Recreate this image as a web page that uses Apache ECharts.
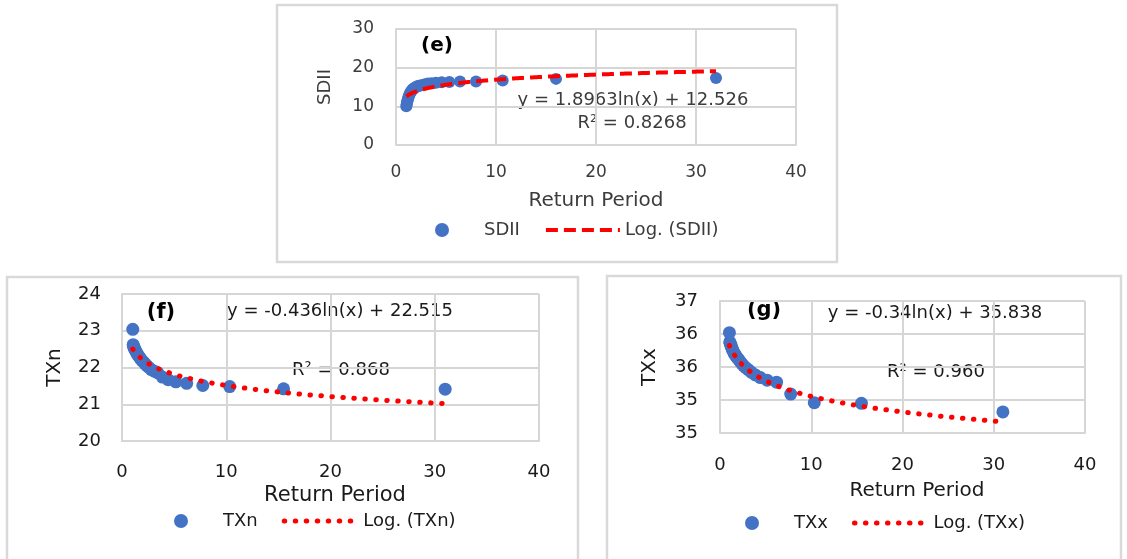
<!DOCTYPE html>
<html>
<head>
<meta charset="utf-8">
<script src="https://cdn.jsdelivr.net/npm/echarts@6/dist/echarts.min.js"></script>
<style>
html,body{margin:0;padding:0;background:#ffffff;}
#c{width:1127px;height:559px;}
</style>
</head>
<body>
<div id="c"></div>
<script>
// ---------- DATA ----------
// Panel (e): SDII vs return period
const sdiiReturnPeriod = [32, 16, 10.667, 8, 6.4, 5.333, 4.571, 4, 3.556, 3.2, 2.909, 2.667, 2.462, 2.286, 2.133, 2, 1.882, 1.778, 1.684, 1.6, 1.524, 1.455, 1.391, 1.333, 1.28, 1.231, 1.185, 1.143, 1.103, 1.067, 1.032];
const sdiiValues = [17.3, 17.1, 16.7, 16.4, 16.4, 16.3, 16.2, 16.1, 16.0, 15.9, 15.7, 15.5, 15.4, 15.3, 15.2, 15.0, 14.8, 14.6, 14.4, 14.2, 13.9, 13.6, 13.3, 13.0, 12.6, 12.2, 11.8, 11.4, 11.0, 10.5, 10.0];
const sdiiTrendCoef = [1.8963, 12.526];          // y = a ln(x) + b (printed on chart)

// Panel (f): TXn vs return period
const txnReturnPeriod = [31, 15.5, 10.333, 7.75, 6.2, 5.167, 4.429, 3.875, 3.444, 3.1, 2.818, 2.583, 2.385, 2.214, 2.067, 1.938, 1.824, 1.722, 1.632, 1.55, 1.476, 1.409, 1.348, 1.292, 1.24, 1.192, 1.148, 1.107, 1.069, 1.033];
const txnValues = [21.41, 21.42, 21.48, 21.51, 21.57, 21.61, 21.67, 21.74, 21.85, 21.90, 21.94, 22.00, 22.05, 22.10, 22.15, 22.18, 22.22, 22.26, 22.30, 22.33, 22.36, 22.40, 22.43, 22.46, 22.49, 22.52, 22.55, 22.58, 22.62, 23.04];
const txnTrendCoef = [-0.436, 22.515];

// Panel (g): TXx vs return period
const txxReturnPeriod = [31, 15.5, 10.333, 7.75, 6.2, 5.167, 4.429, 3.875, 3.444, 3.1, 2.818, 2.583, 2.385, 2.214, 2.067, 1.938, 1.824, 1.722, 1.632, 1.55, 1.476, 1.409, 1.348, 1.292, 1.24, 1.192, 1.148, 1.107, 1.069, 1.033];
const txxValues = [34.82, 34.95, 34.96, 35.09, 35.27, 35.30, 35.34, 35.38, 35.42, 35.46, 35.49, 35.52, 35.55, 35.58, 35.61, 35.63, 35.65, 35.67, 35.69, 35.71, 35.73, 35.75, 35.77, 35.79, 35.81, 35.83, 35.85, 35.86, 35.88, 36.02];
const txxTrendCoef = [-0.34, 35.838];

const seriesNames = ['SDII', 'Log. (SDII)', 'TXn', 'Log. (TXn)', 'TXx', 'Log. (TXx)'];
const panelLabels = ['(e)', '(f)', '(g)'];
const equations = ['y = 1.8963ln(x) + 12.526', 'y = -0.436ln(x) + 22.515', 'y = -0.34ln(x) + 35.838'];
const rSquared = ['R\u00B2 = 0.8268', 'R\u00B2 = 0.868', 'R\u00B2 = 0.960'];
const xTitle = 'Return Period';
const yTitles = ['SDII', 'TXn', 'TXx'];

// ---------- HELPERS ----------
function pairs(xs, ys) { return xs.map((x, i) => [x, ys[i]]); }
// logarithmic trend line over the data range, from the printed coefficients
function trend(xs, coef) {
  const lo = Math.min.apply(null, xs), hi = Math.max.apply(null, xs);
  const pts = [];
  const n = 300;
  for (let i = 0; i <= n; i++) {
    const x = lo + (hi - lo) * i / n;
    pts.push([x, coef[0] * Math.log(x) + coef[1]]);
  }
  return pts;
}

const FONT = 'DejaVu Sans';
const GRID_C = '#d6d6d6';
const BLUE = '#4472C4';
const RED = '#FF0000';

function xAxisCfg(gi, o) {
  return {
    type: 'value', gridIndex: gi, min: 0, max: 40, interval: 10,
    axisLine: { show: true, lineStyle: { color: GRID_C, width: 2 } },
    axisTick: { show: false },
    splitLine: { show: true, showMinLine: true, showMaxLine: true, lineStyle: { color: GRID_C, width: 2 } },
    axisLabel: { fontFamily: FONT, fontSize: o.lab, color: o.col, margin: o.xm },
    name: xTitle, nameLocation: 'middle', nameGap: o.ng,
    nameTextStyle: { fontFamily: FONT, fontSize: o.nf, color: o.col, padding: o.np || 0 }
  };
}
function yAxisCfg(gi, o) {
  return {
    type: 'value', gridIndex: gi, min: o.min, max: o.max, interval: o.int,
    axisLine: { show: true, lineStyle: { color: GRID_C, width: 2 } },
    axisTick: { show: false },
    splitLine: { show: true, showMinLine: true, showMaxLine: true, lineStyle: { color: GRID_C, width: 2 } },
    axisLabel: { fontFamily: FONT, fontSize: o.lab, color: o.col, margin: o.ym, formatter: o.fmt },
    name: o.name, nameLocation: 'middle', nameGap: o.ng, nameRotate: 90,
    nameTextStyle: { fontFamily: FONT, fontSize: o.nf, color: o.col }
  };
}
function legendCfg(names, left, top, col, lineStyle) {
  return {
    data: [names[0], { name: names[1], itemStyle: { opacity: 0, color: 'rgba(0,0,0,0)', borderWidth: 0 },
                       lineStyle: lineStyle }],
    left: left, top: top, orient: 'horizontal', padding: 0,
    itemWidth: 74, itemHeight: 14, itemGap: 24, selectedMode: false,
    lineStyle: lineStyle,
    textStyle: { fontFamily: FONT, fontSize: 18, color: col }
  };
}
function txt(text, x, y, font, color) {
  return {
    type: 'text', x: x, y: y, silent: true,
    style: { text: text, font: font, fill: color, align: 'center', verticalAlign: 'middle',
             textAlign: 'center', textVerticalAlign: 'middle' }
  };
}
function box(x, y, w, h) {
  return { type: 'rect', shape: { x: x, y: y, width: w, height: h }, silent: true,
           style: { fill: 'none', stroke: '#d9d9d9', lineWidth: 2.5 } };
}

const colE = '#3c3c3c', colFG = '#1a1a1a';
const dashedE = { color: RED, width: 4, type: [12, 6], cap: 'butt' };
const dottedFG = { color: RED, width: 5, type: [0.5, 10.5], cap: 'round' };

const option = {
  animation: false,
  backgroundColor: '#ffffff',
  grid: [
    { left: 396, top: 29, width: 400, height: 116, containLabel: false, outerBoundsMode: 'none' },
    { left: 122, top: 294, width: 417, height: 147, containLabel: false, outerBoundsMode: 'none' },
    { left: 720, top: 301, width: 365, height: 132, containLabel: false, outerBoundsMode: 'none' }
  ],
  xAxis: [
    xAxisCfg(0, { lab: 17, col: colE, xm: 19, ng: 46, nf: 20 }),
    xAxisCfg(1, { lab: 18, col: colFG, xm: 22, ng: 44, nf: 21, np: [0, 0, 0, 9] }),
    xAxisCfg(2, { lab: 18, col: colFG, xm: 23, ng: 48, nf: 20, np: [0, 0, 0, 29] })
  ],
  yAxis: [
    yAxisCfg(0, { min: 0, max: 30, int: 10, lab: 17, col: colE, ym: 22, name: yTitles[0], ng: 62, nf: 18 }),
    yAxisCfg(1, { min: 20, max: 24, int: 1, lab: 18, col: colFG, ym: 21, name: yTitles[1], ng: 57, nf: 20 }),
    yAxisCfg(2, { min: 34.5, max: 36.5, int: 0.5, lab: 18, col: colFG, ym: 22, name: yTitles[2], ng: 60, nf: 20,
                  fmt: function (v) { return String(Math.round(v)); } })
  ],
  legend: [
    legendCfg([seriesNames[0], seriesNames[1]], 435, 221, colE, dashedE),
    legendCfg([seriesNames[2], seriesNames[3]], 174, 512, colFG, dottedFG),
    legendCfg([seriesNames[4], seriesNames[5]], 745, 514, colFG, dottedFG)
  ],
  series: [
    { name: seriesNames[0], type: 'scatter', xAxisIndex: 0, yAxisIndex: 0, symbol: 'circle', symbolSize: 12,
      itemStyle: { color: BLUE, opacity: 1 }, z: 2, data: pairs(sdiiReturnPeriod, sdiiValues) },
    { name: seriesNames[1], type: 'line', xAxisIndex: 0, yAxisIndex: 0, symbol: 'none', showSymbol: false, z: 3,
      lineStyle: dashedE, itemStyle: { color: RED },
      data: trend(sdiiReturnPeriod, sdiiTrendCoef) },
    { name: seriesNames[2], type: 'scatter', xAxisIndex: 1, yAxisIndex: 1, symbol: 'circle', symbolSize: 13,
      itemStyle: { color: BLUE, opacity: 1 }, z: 2, data: pairs(txnReturnPeriod, txnValues) },
    { name: seriesNames[3], type: 'line', xAxisIndex: 1, yAxisIndex: 1, symbol: 'none', showSymbol: false, z: 3,
      lineStyle: dottedFG, itemStyle: { color: RED },
      data: trend(txnReturnPeriod, txnTrendCoef) },
    { name: seriesNames[4], type: 'scatter', xAxisIndex: 2, yAxisIndex: 2, symbol: 'circle', symbolSize: 13,
      itemStyle: { color: BLUE, opacity: 1 }, z: 2, data: pairs(txxReturnPeriod, txxValues) },
    { name: seriesNames[5], type: 'line', xAxisIndex: 2, yAxisIndex: 2, symbol: 'none', showSymbol: false, z: 3,
      lineStyle: dottedFG, itemStyle: { color: RED },
      data: trend(txxReturnPeriod, txxTrendCoef) }
  ],
  graphic: [
    box(277, 5, 560, 257),
    box(7, 277, 571, 300),
    box(607, 276, 514, 300),
    txt(panelLabels[0], 437, 46, 'bold 20px "DejaVu Sans"', '#000000'),
    txt(panelLabels[1], 161, 313, 'bold 21px "DejaVu Sans"', '#000000'),
    txt(panelLabels[2], 764, 311, 'bold 21px "DejaVu Sans"', '#000000'),
    txt(equations[0], 633, 100, '18px "DejaVu Sans"', '#3c3c3c'),
    txt(rSquared[0], 632, 123, '18px "DejaVu Sans"', '#3c3c3c'),
    txt(equations[1], 340, 311, '18px "DejaVu Sans"', '#1a1a1a'),
    txt(rSquared[1], 341, 370, '18px "DejaVu Sans"', '#1a1a1a'),
    txt(equations[2], 935, 313, '18px "DejaVu Sans"', '#1a1a1a'),
    txt(rSquared[2], 936, 372, '18px "DejaVu Sans"', '#1a1a1a')
  ]
};

const chart = echarts.init(document.getElementById('c'), null, { renderer: 'canvas', width: 1127, height: 559 });
chart.setOption(option);
</script>
</body>
</html>
